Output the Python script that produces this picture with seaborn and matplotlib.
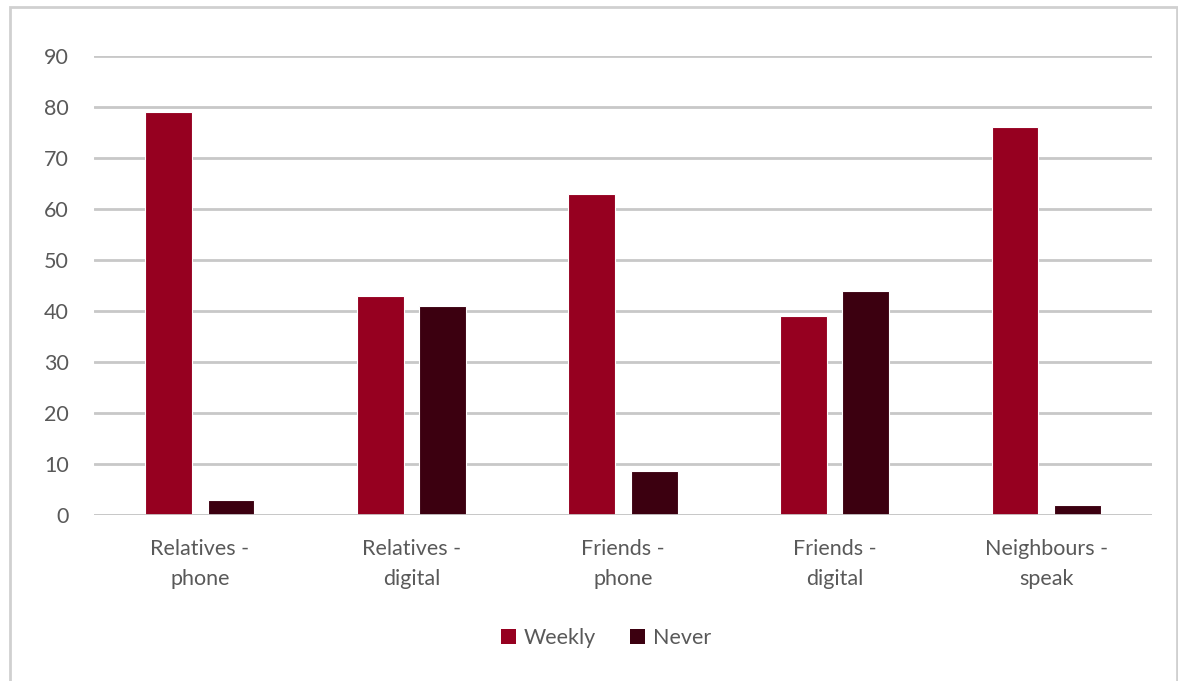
import matplotlib
matplotlib.use("Agg")
import matplotlib.pyplot as plt
import seaborn as sns
import pandas as pd
from matplotlib.patches import Rectangle, Patch

categories = ["Relatives -\nphone", "Relatives -\ndigital", "Friends -\nphone", "Friends -\ndigital", "Neighbours -\nspeak"]
weekly = [79, 43, 63, 39, 76]
never = [3, 41, 8.6, 44, 2]
series = ["Weekly", "Never"]
colors = {"Weekly": "#960020", "Never": "#3C0010"}
yticks = [0, 10, 20, 30, 40, 50, 60, 70, 80, 90]

df = pd.DataFrame({
    "category": categories * 2,
    "series": ["Weekly"] * len(categories) + ["Never"] * len(categories),
    "value": weekly + never,
})

sns.set_theme(style="white")
plt.rcParams["font.family"] = ["Lato", "DejaVu Sans"]

fig = plt.figure(figsize=(11.78, 6.81), dpi=100)
ax = fig.add_axes([94/1178, 1 - 515/681, (1152-94)/1178, (515-56)/681])

sns.barplot(data=df, x="category", y="value", hue="series", order=categories,
            hue_order=series, palette=colors, saturation=1, width=0.59, gap=0.25,
            edgecolor="white", linewidth=0.8, ax=ax, legend=False, zorder=3)

ax.set_ylim(0, 90)
ax.set_xlim(-0.5, len(categories) - 0.5)
ax.set_yticks(yticks)
ax.set_yticklabels([str(t) for t in yticks])
ax.yaxis.grid(True, color="#C8C8C8", linewidth=2)
ax.set_axisbelow(True)
for s in ax.spines.values():
    s.set_visible(False)
ax.set_xlabel("")
ax.set_ylabel("")
ax.tick_params(axis="both", length=0, labelsize=15.5, labelcolor="#595959")
ax.tick_params(axis="y", pad=18)
ax.tick_params(axis="x", pad=17)
for lab in ax.get_xticklabels():
    lab.set_linespacing(1.65)
ax.axhline(0, color="#C8C8C8", linewidth=2, zorder=4)

handles = [Patch(facecolor=colors[s], edgecolor="none") for s in series]
fig.legend(handles, series, loc="center", bbox_to_anchor=(606/1178, 1 - 638/681),
           ncol=2, frameon=False, fontsize=15.5, handlelength=0.7, handleheight=0.7,
           handletextpad=0.35, columnspacing=1.6, labelcolor="#595959")

border = Rectangle((10/1178, -0.05), (1177-10)/1178, 1.05 - 7/681,
                   transform=fig.transFigure, fill=False, edgecolor="#D0D0D0",
                   linewidth=2, clip_on=False)
fig.patches.append(border)

fig.savefig("out.png", dpi=100)
